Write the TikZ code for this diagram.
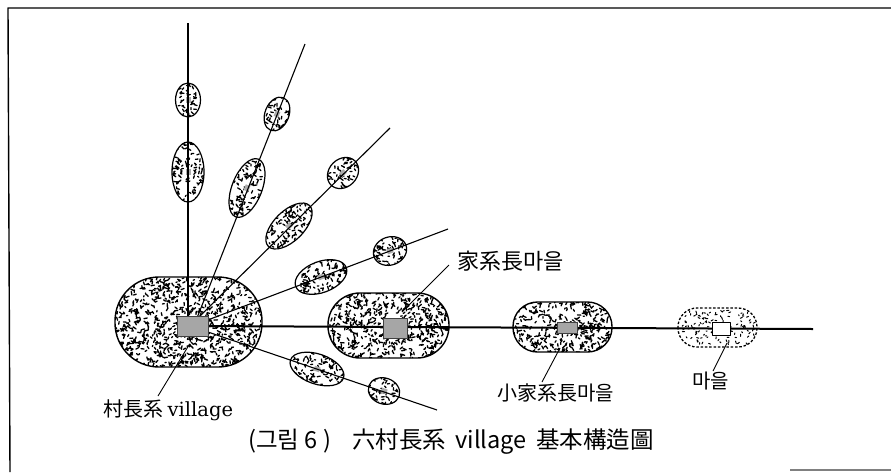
\documentclass[tikz,border=0pt]{standalone}
\usepackage{fontspec}
\newfontfamily\cjk{Noto Sans CJK KR}
\newfontfamily\latserif{DejaVu Serif}
\newcommand\speckle[5]{%
  \draw[line width=1.3pt, line cap=round]
    foreach \k in {1,...,#5} { ({#1+rnd*(#3)},{#2+rnd*(#4)}) -- ++({rnd*360}:{1.2+2.4*rnd}) };
}
\newcommand\blob[5]{% cx cy angle a b
  \begin{scope}[shift={(#1,#2)}, rotate=#3]
    \begin{scope}
      \clip (0,0) ellipse ({#4} and {#5});
      \pgfmathtruncatemacro\nn{3.1416*#4*#5/12}
      \speckle{-#4}{-#5}{2*#4}{2*#5}{\nn}
      \fill[gray!65] (-3,-2.5) rectangle (3,2.5);
    \end{scope}
    \draw[line width=1.2pt] (0,0) ellipse ({#4} and {#5});
  \end{scope}}
\tikzset{
  spoke/.style={line width=1.1pt},
  mainline/.style={line width=2pt},
  leader/.style={line width=0.9pt},
  lbl/.style={font=\cjk\fontsize{20}{24}\selectfont, inner sep=0pt, anchor=west},
  capt/.style={font=\cjk\fontsize{23.5}{28}\selectfont, inner sep=0pt},
  hub/.style={fill=gray!70, draw=black!75, line width=0.8pt},
  stad/.style={line width=1.4pt}
}
\begin{document}
\begin{tikzpicture}[x=1pt,y=-1pt,line join=round]
\useasboundingbox (0,0) rectangle (891,472);
\pgfmathsetseed{11}
% frame
\draw[line width=1.4pt] (891,8) -- (8,8) -- (10,472);
\draw[line width=1.2pt, gray] (790,470) -- (891,470);

% stadium fills
\begin{scope}
  \clip[rounded corners=44] (115,277) rectangle (262,367);
  \speckle{115}{277}{147}{90}{1000}
\end{scope}
\draw[stad, rounded corners=44] (115,277) rectangle (262,367);

\begin{scope}
  \clip[rounded corners=32] (328,293) rectangle (449,358);
  \speckle{328}{293}{121}{65}{580}
\end{scope}
\draw[stad, rounded corners=32] (328,293) rectangle (449,358);

\begin{scope}
  \clip[rounded corners=24.5] (513,302) rectangle (612,352);
  \speckle{513}{302}{99}{50}{370}
\end{scope}
\draw[stad, rounded corners=24.5] (513,302) rectangle (612,352);

\begin{scope}
  \clip[rounded corners=19] (678,308) rectangle (757,347);
  \draw[line width=1pt, line cap=round]
    foreach \k in {1,...,120} { ({680+rnd*75},{310+rnd*35}) -- ++({rnd*360}:{1+1.5*rnd}) };
\end{scope}
\draw[line width=1.3pt, dash pattern=on 2.5pt off 1.8pt, rounded corners=19] (678,308) rectangle (757,347);

% spokes
\coordinate (hubC) at (192,326);
\coordinate (s1) at (188,23);
\coordinate (s2) at (305,44);
\coordinate (s3) at (390,128);
\coordinate (s4) at (448,229);
\coordinate (s5) at (437,410);
\coordinate (mEnd) at (813,329);

\blob{188}{100}{90}{17}{12.5}
\blob{188}{172}{90}{30}{16}
\blob{277}{114}{68.5}{17.5}{12}
\blob{247}{188}{68.5}{31}{15}
\blob{343}{173}{44.6}{17}{14}
\blob{289}{226}{44.6}{29}{15}
\blob{390}{251}{20.7}{17}{14}
\blob{321}{277}{20.7}{27}{15.5}
\blob{317}{369}{-18.8}{28}{15}
\blob{384}{391}{-18.8}{16}{13}

\draw[spoke] (s1) -- (188,318);
\draw[spoke] (s2) -- (197,318);
\draw[spoke] (s3) -- (199,317);
\draw[spoke] (s4) -- (205,321);
\draw[spoke] (s5) -- (205,331);
\draw[mainline] (hubC) -- (mEnd);

% hubs
\draw[hub] (177,316) rectangle (208,336);
\draw[hub] (383,318) rectangle (407,338);
\draw[hub] (557,322) rectangle (577,333);
\draw[fill=white, draw=black, line width=1pt] (712,322) rectangle (730,335);

% labels
\node[lbl] (lv) at (103,410) {村長系 {\latserif\fontsize{19.5}{24}\selectfont village}};
\node[lbl, font=\cjk\fontsize{22}{26}\selectfont] (lk) at (457,261) {家系長마을};
\node[lbl] (ls) at (497,393) {小家系長마을};
\node[lbl] (lm) at (692,381) {마을};

\coordinate (v1) at (189,345);
\coordinate (v2) at (158,396);
\coordinate (k1) at (402,312);
\coordinate (k2) at (449,265);
\coordinate (so1) at (560,348);
\coordinate (so2) at (542,382);
\coordinate (m1) at (727,343);
\coordinate (m2) at (713,371);
\draw[leader] (v1) -- (v2);
\draw[leader] (k1) -- (k2);
\draw[leader] (so1) -- (so2);
\draw[leader] (m1) -- (m2);

\node[capt] (cap) at (451,442) {(그림 6 )\hspace{0.9em}六村長系\hspace{0.4em}village\hspace{0.4em}基本構造圖};
\end{tikzpicture}
\end{document}
